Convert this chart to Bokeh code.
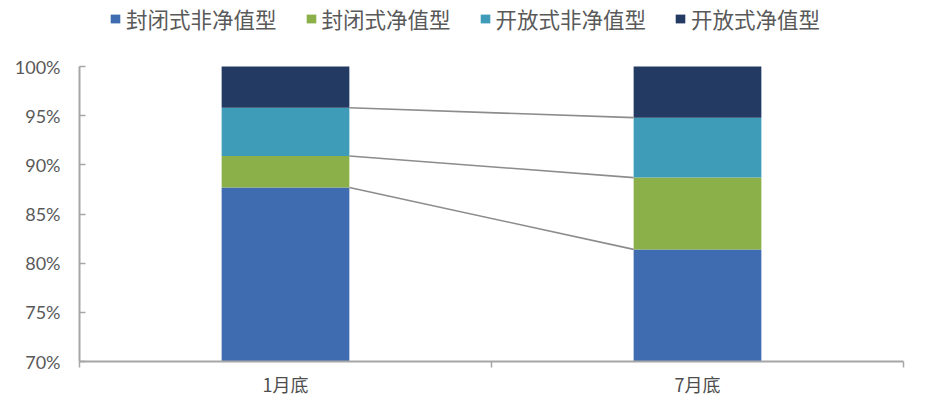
from bokeh.plotting import figure
from bokeh.models import Range1d, FixedTicker, PrintfTickFormatter, Legend
from bokeh.embed import file_html
from bokeh.resources import INLINE

categories = ["1月底", "7月底"]
series_names = ["封闭式非净值型", "封闭式净值型", "开放式非净值型", "开放式净值型"]
closed_non_nav = [87.7, 81.4]
closed_nav = [3.2, 7.3]
open_non_nav = [4.9, 6.1]
open_nav = [4.2, 5.2]
y_ticks = [70, 75, 80, 85, 90, 95, 100]
colors = ["#3F6CB0", "#8BB04A", "#3E9CB9", "#233B63"]

xs = [i + 0.5 for i in range(len(categories))]
bar_w = 0.31
data = dict(x=xs, a=closed_non_nav, b=closed_nav, c=open_non_nav, d=open_nav)

# frame spans the full top so that the legend can sit inside it; axis is bounded to 70-100
fig_h = 406
bottom_border = 45
frame_h = fig_h - bottom_border
px_per_unit = (frame_h - 66) / 30.0
y_top = 100 + 66 / px_per_unit

p = figure(width=919, height=fig_h, output_backend="svg", toolbar_location=None,
           x_range=Range1d(0, len(categories)), y_range=Range1d(70, y_top),
           min_border_left=79, min_border_right=16, min_border_top=0,
           min_border_bottom=bottom_border)
p.outline_line_color = None
p.xgrid.visible = False
p.ygrid.visible = False

renderers = p.vbar_stack(["a", "b", "c", "d"], x="x", width=bar_w, source=data,
                         color=colors, line_color=None)

# connector lines between cumulative boundaries
cum1 = 0.0
cum2 = 0.0
tops1, tops2 = [], []
for s in [closed_non_nav, closed_nav, open_non_nav]:
    cum1 += s[0]
    cum2 += s[1]
    tops1.append(cum1)
    tops2.append(cum2)
p.segment(x0=[xs[0] + bar_w / 2] * 3, y0=tops1, x1=[xs[1] - bar_w / 2] * 3, y1=tops2,
          line_color="#8C8C8C", line_width=1.6)

axis_col = "#A6A6A6"
lab_col = "#595959"

# y axis
p.yaxis.bounds = (70, 100)
p.yaxis.ticker = FixedTicker(ticks=y_ticks)
p.yaxis.formatter = PrintfTickFormatter(format="%d%%")
p.yaxis.axis_line_color = axis_col
p.yaxis.axis_line_width = 2
p.yaxis.major_tick_line_color = axis_col
p.yaxis.major_tick_line_width = 1.5
p.yaxis.major_tick_in = 6
p.yaxis.major_tick_out = 0
p.yaxis.minor_tick_line_color = None
p.yaxis.major_label_text_font = "Lato"
p.yaxis.major_label_text_font_size = "18px"
p.yaxis.major_label_text_color = lab_col
p.yaxis.major_label_standoff = 19

# x axis
p.xaxis.ticker = FixedTicker(ticks=xs, minor_ticks=[float(i) for i in range(len(categories) + 1)])
p.xaxis.major_label_overrides = {x: c for x, c in zip(xs, categories)}
p.xaxis.axis_line_color = axis_col
p.xaxis.axis_line_width = 2
p.xaxis.major_tick_line_color = None
p.xaxis.minor_tick_line_color = axis_col
p.xaxis.minor_tick_line_width = 1.5
p.xaxis.minor_tick_in = 0
p.xaxis.minor_tick_out = 6
p.xaxis.major_label_text_font = "Noto Sans CJK SC"
p.xaxis.major_label_text_font_size = "18px"
p.xaxis.major_label_text_color = "#4D4D4D"
p.xaxis.major_label_standoff = 3

legend = Legend(items=[(n, [r]) for n, r in zip(series_names, renderers)],
                orientation="horizontal", location=(30, frame_h - 34),
                glyph_width=12, glyph_height=11, label_height=20, label_standoff=5, spacing=28,
                padding=0, margin=0, border_line_color=None, background_fill_alpha=0,
                label_text_font="Noto Sans CJK SC", label_text_font_size="21.5px",
                label_text_color=lab_col)
p.add_layout(legend, "center")

open("out.html", "w").write(file_html(p, INLINE))
